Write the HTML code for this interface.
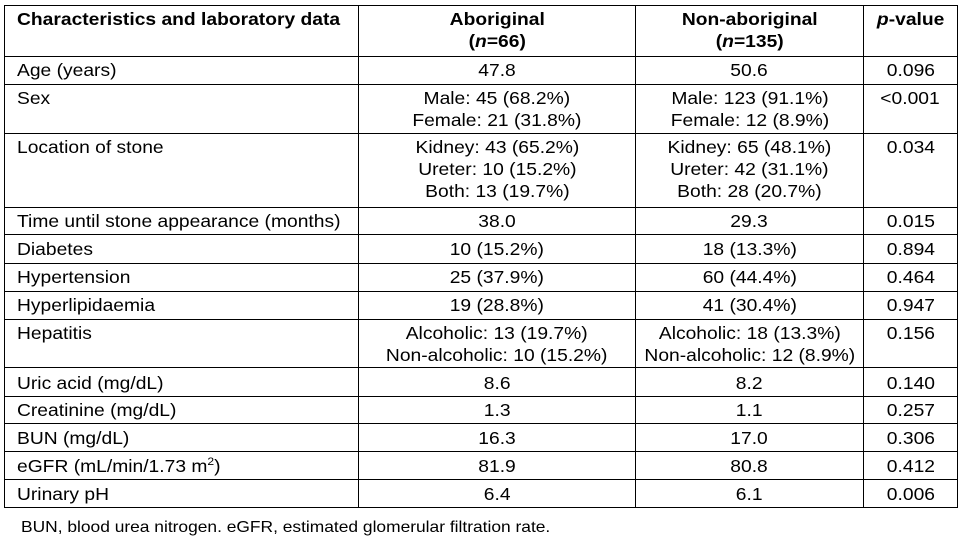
<!DOCTYPE html>
<html>
<head>
<meta charset="utf-8">
<style>
  html,body{margin:0;padding:0;}
  body{width:960px;height:539px;background:#fff;overflow:hidden;position:relative;
       font-family:"Liberation Sans", Arial, sans-serif;color:#000;}
  .h{position:absolute;left:4px;width:954px;height:1px;background:#000;}
  .v{position:absolute;top:5px;height:503px;width:1px;background:#000;}
  .t{position:absolute;font-size:17.5px;line-height:22px;white-space:nowrap;}
  .c1{left:17px;}
  .c2{left:359px;width:276px;text-align:center;}
  .c3{left:636px;width:227px;text-align:center;}
  .c4{left:864px;width:93px;text-align:center;}
  .s{display:inline-block;transform:scaleX(1.1);transform-origin:50% 50%;}
  .c1 .s{transform-origin:0 50%;}
  .b{font-weight:bold;}
  sup{font-size:11px;line-height:0;vertical-align:7px;}
  .foot{position:absolute;left:21px;top:517px;font-size:15.8px;line-height:22px;white-space:nowrap;}
  .foot .s{transform-origin:0 50%;}
</style>
</head>
<body>
<!-- horizontal lines -->
<div class="h" style="top:5px"></div>
<div class="h" style="top:56px"></div>
<div class="h" style="top:84px"></div>
<div class="h" style="top:133px"></div>
<div class="h" style="top:207px"></div>
<div class="h" style="top:234px"></div>
<div class="h" style="top:263px"></div>
<div class="h" style="top:291px"></div>
<div class="h" style="top:319px"></div>
<div class="h" style="top:367px"></div>
<div class="h" style="top:396px"></div>
<div class="h" style="top:423px"></div>
<div class="h" style="top:451px"></div>
<div class="h" style="top:479px"></div>
<div class="h" style="top:507px"></div>
<!-- vertical lines -->
<div class="v" style="left:4px"></div>
<div class="v" style="left:358px"></div>
<div class="v" style="left:635px"></div>
<div class="v" style="left:863px"></div>
<div class="v" style="left:957px"></div>

<!-- header -->
<div class="t c1 b" style="top:8px"><span class="s">Characteristics and laboratory data</span></div>
<div class="t c2 b" style="top:8px"><span class="s">Aboriginal<br>(<i>n</i>=66)</span></div>
<div class="t c3 b" style="top:8px"><span class="s">Non-aboriginal<br>(<i>n</i>=135)</span></div>
<div class="t c4 b" style="top:8px"><span class="s"><i>p</i>-value</span></div>

<!-- Age -->
<div class="t c1" style="top:59px"><span class="s">Age (years)</span></div>
<div class="t c2" style="top:59px"><span class="s">47.8</span></div>
<div class="t c3" style="top:59px"><span class="s">50.6</span></div>
<div class="t c4" style="top:59px"><span class="s">0.096</span></div>

<!-- Sex -->
<div class="t c1" style="top:87px"><span class="s">Sex</span></div>
<div class="t c2" style="top:87px"><span class="s">Male: 45 (68.2%)<br>Female: 21 (31.8%)</span></div>
<div class="t c3" style="top:87px"><span class="s">Male: 123 (91.1%)<br>Female: 12 (8.9%)</span></div>
<div class="t c4" style="top:87px"><span class="s">&lt;0.001</span></div>

<!-- Location -->
<div class="t c1" style="top:136px"><span class="s">Location of stone</span></div>
<div class="t c2" style="top:136px"><span class="s">Kidney: 43 (65.2%)<br>Ureter: 10 (15.2%)<br>Both: 13 (19.7%)</span></div>
<div class="t c3" style="top:136px"><span class="s">Kidney: 65 (48.1%)<br>Ureter: 42 (31.1%)<br>Both: 28 (20.7%)</span></div>
<div class="t c4" style="top:136px"><span class="s">0.034</span></div>

<!-- Time -->
<div class="t c1" style="top:210px"><span class="s">Time until stone appearance (months)</span></div>
<div class="t c2" style="top:210px"><span class="s">38.0</span></div>
<div class="t c3" style="top:210px"><span class="s">29.3</span></div>
<div class="t c4" style="top:210px"><span class="s">0.015</span></div>

<!-- Diabetes -->
<div class="t c1" style="top:238px"><span class="s">Diabetes</span></div>
<div class="t c2" style="top:238px"><span class="s">10 (15.2%)</span></div>
<div class="t c3" style="top:238px"><span class="s">18 (13.3%)</span></div>
<div class="t c4" style="top:238px"><span class="s">0.894</span></div>

<!-- Hypertension -->
<div class="t c1" style="top:266px"><span class="s">Hypertension</span></div>
<div class="t c2" style="top:266px"><span class="s">25 (37.9%)</span></div>
<div class="t c3" style="top:266px"><span class="s">60 (44.4%)</span></div>
<div class="t c4" style="top:266px"><span class="s">0.464</span></div>

<!-- Hyperlipidaemia -->
<div class="t c1" style="top:294px"><span class="s">Hyperlipidaemia</span></div>
<div class="t c2" style="top:294px"><span class="s">19 (28.8%)</span></div>
<div class="t c3" style="top:294px"><span class="s">41 (30.4%)</span></div>
<div class="t c4" style="top:294px"><span class="s">0.947</span></div>

<!-- Hepatitis -->
<div class="t c1" style="top:322px"><span class="s">Hepatitis</span></div>
<div class="t c2" style="top:322px"><span class="s">Alcoholic: 13 (19.7%)<br>Non-alcoholic: 10 (15.2%)</span></div>
<div class="t c3" style="top:322px"><span class="s">Alcoholic: 18 (13.3%)<br>Non-alcoholic: 12 (8.9%)</span></div>
<div class="t c4" style="top:322px"><span class="s">0.156</span></div>

<!-- Uric acid -->
<div class="t c1" style="top:372px"><span class="s">Uric acid (mg/dL)</span></div>
<div class="t c2" style="top:372px"><span class="s">8.6</span></div>
<div class="t c3" style="top:372px"><span class="s">8.2</span></div>
<div class="t c4" style="top:372px"><span class="s">0.140</span></div>

<!-- Creatinine -->
<div class="t c1" style="top:399px"><span class="s">Creatinine (mg/dL)</span></div>
<div class="t c2" style="top:399px"><span class="s">1.3</span></div>
<div class="t c3" style="top:399px"><span class="s">1.1</span></div>
<div class="t c4" style="top:399px"><span class="s">0.257</span></div>

<!-- BUN -->
<div class="t c1" style="top:427px"><span class="s">BUN (mg/dL)</span></div>
<div class="t c2" style="top:427px"><span class="s">16.3</span></div>
<div class="t c3" style="top:427px"><span class="s">17.0</span></div>
<div class="t c4" style="top:427px"><span class="s">0.306</span></div>

<!-- eGFR -->
<div class="t c1" style="top:455px"><span class="s">eGFR (mL/min/1.73 m<sup>2</sup>)</span></div>
<div class="t c2" style="top:455px"><span class="s">81.9</span></div>
<div class="t c3" style="top:455px"><span class="s">80.8</span></div>
<div class="t c4" style="top:455px"><span class="s">0.412</span></div>

<!-- Urinary pH -->
<div class="t c1" style="top:483px"><span class="s">Urinary pH</span></div>
<div class="t c2" style="top:483px"><span class="s">6.4</span></div>
<div class="t c3" style="top:483px"><span class="s">6.1</span></div>
<div class="t c4" style="top:483px"><span class="s">0.006</span></div>

<div class="foot"><span class="s">BUN, blood urea nitrogen. eGFR, estimated glomerular filtration rate.</span></div>
</body>
</html>
